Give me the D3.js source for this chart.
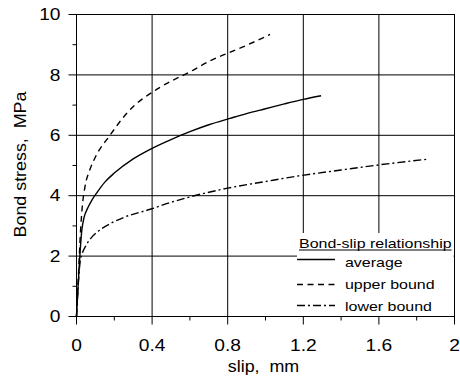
<!DOCTYPE html>
<html>
<head>
<meta charset="utf-8">
<script src="https://cdn.jsdelivr.net/npm/d3@7"></script>
<style>
  body { margin: 0; background: #fff; }
  svg { display: block; }
  text { font-family: "Liberation Sans", Arial, Helvetica, sans-serif; fill: #000; white-space: pre; }
</style>
</head>
<body>
<svg id="chart" width="460" height="380"></svg>
<script>
// Bond-slip curves: slip (mm) and bond stress (MPa)
const slipAvg    = [0, 0.029, 0.04, 0.06, 0.08, 0.11, 0.15, 0.2, 0.3, 0.4, 0.5, 0.6, 0.7, 0.812, 0.9, 1.0, 1.1, 1.2, 1.294];
const stressAvg  = [0, 2.9, 3.28, 3.6, 3.84, 4.12, 4.45, 4.75, 5.22, 5.57, 5.86, 6.12, 6.35, 6.56, 6.72, 6.88, 7.04, 7.19, 7.31];

const slipUpper   = [0, 0.012, 0.022, 0.03, 0.045, 0.07, 0.1, 0.177, 0.266, 0.442, 0.6, 0.715, 0.8, 0.9, 1.024];
const stressUpper = [0, 1.6, 2.9, 3.6, 4.3, 4.85, 5.28, 6.0, 6.73, 7.59, 8.1, 8.49, 8.72, 8.98, 9.34];

const slipLower   = [0, 0.012, 0.02, 0.03, 0.05, 0.08, 0.12, 0.18, 0.25, 0.39, 0.5, 0.6, 0.8, 1.0, 1.18, 1.4, 1.6, 1.86];
const stressLower = [0, 1.3, 1.85, 2.08, 2.35, 2.62, 2.85, 3.08, 3.28, 3.55, 3.78, 3.96, 4.25, 4.47, 4.66, 4.85, 5.02, 5.21];

const seriesNames = ["average", "upper bound", "lower bound"];
const legendTitle = "Bond-slip relationship";

const xTicks = [0, 0.4, 0.8, 1.2, 1.6, 2];
const xTickLabels = ["0", "0.4", "0.8", "1.2", "1.6", "2"];
const xMinorTicks = [0.2, 0.6, 1.0, 1.4, 1.8];
const yTicks = [0, 2, 4, 6, 8, 10];
const yTickLabels = ["0", "2", "4", "6", "8", "10"];
const yMinorTicks = [1, 3, 5, 7, 9];

const xTitle = "slip,  mm";
const yTitle = "Bond stress,  MPa";

// ---- layout ----
const svg = d3.select("#chart");
const x = d3.scaleLinear().domain([0, 2]).range([76.5, 454.5]);
const y = d3.scaleLinear().domain([0, 10]).range([316.5, 14.5]);
const stretch = 1.2;  // horizontal widening of the lettering

// grid lines
const grid = svg.append("g").attr("stroke", "#000").attr("stroke-width", 1);
grid.selectAll(".gx").data(xTicks.slice(1, -1)).join("line")
  .attr("x1", d => x(d)).attr("x2", d => x(d))
  .attr("y1", y(10)).attr("y2", y(0));
grid.selectAll(".gy").data(yTicks.slice(1, -1)).join("line")
  .attr("y1", d => y(d)).attr("y2", d => y(d))
  .attr("x1", x(0)).attr("x2", x(2));

// curves
const line = d3.line().x(d => x(d[0])).y(d => y(d[1])).curve(d3.curveMonotoneX);
const curves = [
  { s: slipAvg,   t: stressAvg,   dash: null },
  { s: slipUpper, t: stressUpper, dash: "6,4.5" },
  { s: slipLower, t: stressLower, dash: "8,3,2,3" }
];
svg.append("g").selectAll("path").data(curves).join("path")
  .attr("d", c => line(c.s.map((v, i) => [v, c.t[i]])))
  .attr("fill", "none").attr("stroke", "#000").attr("stroke-width", 1.4)
  .attr("stroke-dasharray", c => c.dash);

// legend panel (white box over the grid)
const lg = svg.append("g");
lg.append("rect").attr("x", 297).attr("y", 233).attr("width", 156.5).attr("height", 83)
  .attr("fill", "#fff");
const titleText = lg.append("g").attr("transform", "translate(299,248)")
  .append("text").attr("font-size", 13.3).attr("transform", `scale(${stretch},1)`)
  .text(legendTitle);
const tw = titleText.node().getComputedTextLength() * stretch;
lg.append("line").attr("x1", 299).attr("x2", 299 + tw).attr("y1", 250).attr("y2", 250)
  .attr("stroke", "#000").attr("stroke-width", 1);
const rowLineY = [259.5, 284.5, 305.5];
const rowTextY = [266.5, 289, 310.5];
seriesNames.forEach((name, i) => {
  lg.append("line").attr("x1", 297).attr("x2", 335).attr("y1", rowLineY[i]).attr("y2", rowLineY[i])
    .attr("stroke", "#000").attr("stroke-width", 1.4).attr("stroke-dasharray", curves[i].dash);
  lg.append("g").attr("transform", `translate(345,${rowTextY[i]})`)
    .append("text").attr("font-size", 13.3).attr("transform", `scale(${stretch},1)`).text(name);
});

// frame
svg.append("rect").attr("x", x(0)).attr("y", y(10))
  .attr("width", x(2) - x(0)).attr("height", y(0) - y(10))
  .attr("fill", "none").attr("stroke", "#000").attr("stroke-width", 1);

// axes
const xAxis = svg.append("g").attr("transform", `translate(0,${y(0)})`)
  .call(d3.axisBottom(x).tickValues(xTicks).tickFormat((d, i) => xTickLabels[i]).tickSize(8).offset(0));
xAxis.select(".domain").remove();
xAxis.selectAll("text").attr("font-size", 16).attr("font-family", null)
  .attr("y", 35).attr("dy", null).attr("transform", `scale(${stretch},1)`);

const xMinor = svg.append("g").attr("transform", `translate(0,${y(0)})`)
  .call(d3.axisBottom(x).tickValues(xMinorTicks).tickFormat("").tickSize(4).offset(0));
xMinor.select(".domain").remove();

const yAxis = svg.append("g").attr("transform", `translate(${x(0)},0)`)
  .call(d3.axisLeft(y).tickValues(yTicks).tickFormat((d, i) => yTickLabels[i]).tickSize(8).offset(0));
yAxis.select(".domain").remove();
yAxis.selectAll("text").attr("font-size", 16).attr("font-family", null)
  .attr("x", -16 / stretch).attr("dy", "0.36em").attr("transform", `scale(${stretch},1)`);

const yMinor = svg.append("g").attr("transform", `translate(${x(0)},0)`)
  .call(d3.axisLeft(y).tickValues(yMinorTicks).tickFormat("").tickSize(4).offset(0));
yMinor.select(".domain").remove();

svg.selectAll(".tick line").attr("stroke", "#000");

// axis titles
svg.append("g").attr("transform", `translate(${(x(0) + x(2)) / 2 - 2},372)`)
  .append("text").attr("font-size", 17).attr("text-anchor", "middle")
  .attr("transform", "scale(1.05,1)").text(xTitle);
svg.append("g").attr("transform", `translate(26,${(y(0) + y(10)) / 2 - 1}) rotate(-90)`)
  .append("text").attr("font-size", 17).attr("text-anchor", "middle")
  .attr("transform", "scale(1.05,1)").text(yTitle);
</script>
</body>
</html>
